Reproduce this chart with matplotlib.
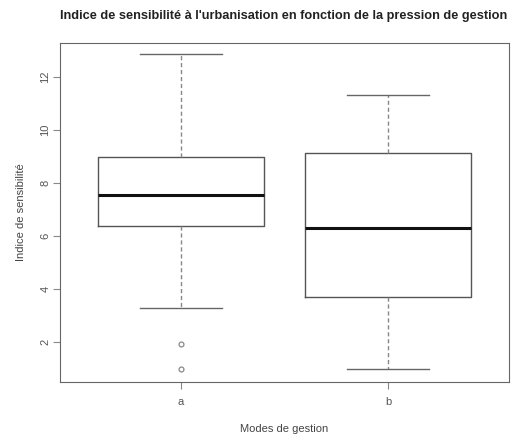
import numpy as np
import matplotlib.pyplot as plt

# values (R-style boxplot)
groups = ["a", "b"]
whislo = [3.28, 0.98]
q1 = [6.38, 3.70]
med = [7.55, 6.30]
q3 = [8.98, 9.13]
whishi = [12.87, 11.32]
fliers = [[1.92, 0.98], []]

plt.rcParams['font.family'] = ['Liberation Sans', 'DejaVu Sans']

stats = []
for i in range(len(groups)):
    stats.append(dict(label=groups[i], whislo=whislo[i], q1=q1[i], med=med[i],
                      q3=q3[i], whishi=whishi[i], fliers=fliers[i]))

fig = plt.figure(figsize=(5.11, 4.37), dpi=100)
ax = fig.add_axes([60/511, 55/437, 449/511, 339/437])

ax.bxp(stats, positions=[1, 2], widths=0.8, capwidths=0.4,
       boxprops=dict(color="#555555", linewidth=1.0),
       medianprops=dict(color="#111111", linewidth=2.2),
       whiskerprops=dict(color="#888888", linewidth=1.0, linestyle=(0, (3, 2))),
       capprops=dict(color="#666666", linewidth=1.0),
       flierprops=dict(marker="o", markersize=3.5, markerfacecolor="none",
                       markeredgecolor="#888888", markeredgewidth=0.9))

ax.set_xlim(0.415, 2.585)
ax.set_ylim(0.49, 13.28)
ax.set_yticks([2, 4, 6, 8, 10, 12])
ax.set_xticks([1, 2])
ax.set_xticklabels(groups)
for s in ax.spines.values():
    s.set_color("#666666")
ax.tick_params(colors="#888888", labelcolor="#555555", labelsize=8, length=5)
ax.tick_params(axis="y", pad=2)
ax.tick_params(axis="x", pad=6)
plt.setp(ax.get_yticklabels(), rotation=90, va="center")
ax.set_ylabel("Indice de sensibilité", fontsize=8, color="#444444", labelpad=10)
ax.set_xlabel("Modes de gestion", fontsize=8, color="#444444", labelpad=12)
fig.text(284/511, 1 - 16/437, "Indice de sensibilité à l'urbanisation en fonction de la pression de gestion",
         ha="center", va="center", fontsize=9.2, fontweight="bold", color="#222222")

plt.savefig("out.png", dpi=100)
